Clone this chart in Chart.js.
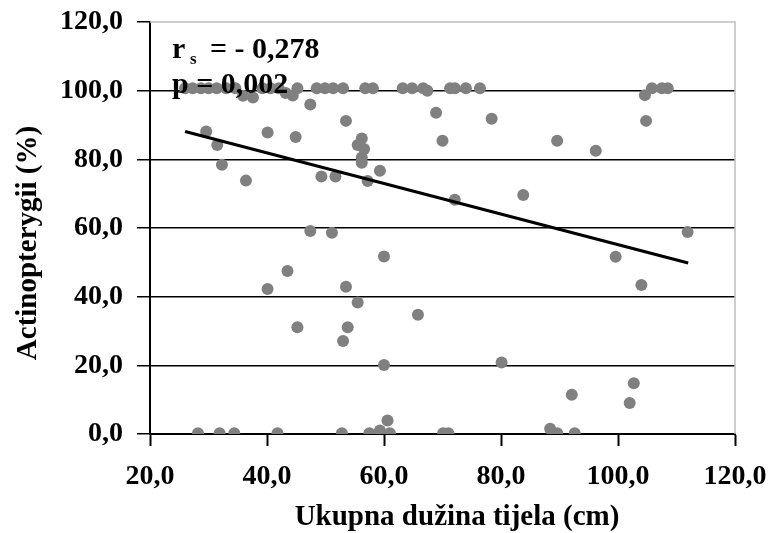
<!DOCTYPE html>
<html>
<head>
<meta charset="utf-8">
<script src="https://cdn.jsdelivr.net/npm/chart.js@4.4.1/dist/chart.umd.min.js"></script>
<style>
    body { margin: 0; background: #fff; }
    #wrap { width: 770px; height: 533px; }
</style>
</head>
<body>
<div id="wrap"><canvas id="myChart" width="770" height="533"></canvas></div>
<script>
// body length (cm) and Actinopterygii share (%) for each fish
const bodyLength = [
    26.0, 27.3, 28.7, 30.0, 31.4, 33.0, 34.6, 35.9, 37.6, 39.2, 40.6, 42.0, 43.2, 44.4, 45.2,
    48.5, 49.9, 51.3, 53.0, 56.8, 58.1, 63.2, 64.8, 66.7, 67.4, 71.3, 72.1, 74.0, 76.4,
    104.6, 105.8, 107.5, 108.5,
    29.6, 31.5, 32.3, 36.4, 40.1, 44.9, 47.4, 53.5, 56.2, 55.5, 56.6, 56.2, 56.2, 49.3, 51.7,
    57.2, 59.3, 47.4, 51.1, 68.9, 70.0, 78.4, 89.6, 96.2, 104.8, 72.1, 83.8, 111.9, 60.0,
    43.5, 40.1, 53.5, 55.5, 65.8, 45.2, 53.8, 53.0, 60.0, 60.6, 99.6, 104.0, 80.1, 92.1,
    102.7, 102.0,
    28.2, 31.9, 34.4, 41.8, 52.8, 57.5, 59.3, 61.0, 70.1, 71.0, 88.4, 89.6, 92.6
];
const actinoPct = [
    100.7, 100.7, 100.7, 100.7, 100.7, 100.7, 100.7, 98.5, 98.0, 100.7, 100.7, 100.7, 99.3, 98.6, 100.7,
    100.7, 100.7, 100.7, 100.7, 100.7, 100.7, 100.7, 100.7, 100.7, 100.0, 100.7, 100.7, 100.7, 100.7,
    98.7, 100.7, 100.7, 100.7,
    88.1, 84.2, 78.4, 73.8, 87.8, 86.5, 96.0, 91.2, 86.1, 84.2, 83.0, 80.5, 79.0, 75.0, 75.0,
    73.7, 76.7, 59.1, 58.6, 93.6, 85.4, 91.8, 85.4, 82.5, 91.2, 68.2, 69.6, 58.8, 51.7,
    47.5, 42.2, 42.9, 38.3, 34.7, 31.1, 31.1, 27.1, 20.1, 3.9, 51.6, 43.4, 20.8, 11.4,
    14.8, 9.0,
    0.2, 0.2, 0.2, 0.2, 0.2, 0.2, 1.0, 0.2, 0.2, 0.2, 1.5, 0.2, 0.2
];

// trend line end points
const trendX = [26.0, 112.0];
const trendY = [88.1, 49.8];

const xTicks = [20, 40, 60, 80, 100, 120];
const yTicks = [0, 20, 40, 60, 80, 100, 120];

const FONT = "'Liberation Serif', 'Times New Roman', serif";

function fmt(v) {
    return v.toFixed(1).replace('.', ',');
}

const points = bodyLength.map((x, i) => ({ x: x, y: actinoPct[i] }));
const trend = trendX.map((x, i) => ({ x: x, y: trendY[i] }));

// titles, r_s / p text and the grey frame on top and right
const extras = {
    id: 'extras',
    beforeDatasetsDraw(chart) {
        const ctx = chart.ctx;
        const a = chart.chartArea;
        ctx.save();
        ctx.strokeStyle = '#bfbfbf';
        ctx.lineWidth = 1.5;
        ctx.beginPath();
        ctx.moveTo(a.left, a.top);
        ctx.lineTo(a.right, a.top);
        ctx.lineTo(a.right, a.bottom);
        ctx.stroke();
        ctx.restore();
    },
    afterDatasetsDraw(chart) {
        const ctx = chart.ctx;
        ctx.save();
        ctx.fillStyle = '#000';
        ctx.textBaseline = 'alphabetic';
        ctx.textAlign = 'left';
        ctx.font = "bold 30px " + FONT;
        ctx.fillText('r', 172, 58);
        ctx.font = "bold 17px " + FONT;
        ctx.fillText('s', 190, 64);
        ctx.font = "bold 30px " + FONT;
        ctx.fillText('= - 0,278', 210, 58);
        ctx.fillText('p = 0,002', 172, 93);

        ctx.font = "bold 29px " + FONT;
        ctx.textAlign = 'center';
        ctx.fillText('Ukupna dužina tijela (cm)', 457, 525);
        ctx.translate(36, 243);
        ctx.rotate(-Math.PI / 2);
        ctx.fillText('Actinopterygii (%)', 0, 0);
        ctx.restore();
    }
};

var ctx = document.getElementById('myChart').getContext('2d');
var chart = new Chart(ctx, {
    type: 'scatter',
    data: {
        datasets: [{
            // first dataset is drawn on top
            data: trend,
            showLine: true,
            borderColor: '#000',
            borderWidth: 3,
            pointRadius: 0,
            fill: false
        }, {
            data: points,
            backgroundColor: '#808080',
            borderWidth: 0,
            pointRadius: 6,
            pointHoverRadius: 6
        }]
    },
    options: {
        responsive: false,
        animation: false,
        layout: { padding: { top: 22, right: 35, left: 0, bottom: 0 } },
        plugins: {
            legend: { display: false },
            tooltip: { enabled: false }
        },
        scales: {
            x: {
                type: 'linear',
                min: 20,
                max: 120,
                afterBuildTicks: (s) => { s.ticks = xTicks.map(v => ({ value: v })); },
                afterFit: (s) => { s.height = 99; s.paddingLeft = 0; s.paddingRight = 0; },
                border: { color: '#000', width: 2 },
                grid: { drawOnChartArea: false, tickLength: 12, tickColor: '#000', tickWidth: 2 },
                ticks: {
                    color: '#000',
                    padding: 14,
                    maxRotation: 0,
                    font: { family: FONT, size: 28, weight: 'bold' },
                    callback: (v) => fmt(v)
                }
            },
            y: {
                type: 'linear',
                min: 0,
                max: 120,
                afterBuildTicks: (s) => { s.ticks = yTicks.map(v => ({ value: v })); },
                afterFit: (s) => { s.width = 150; s.paddingTop = 0; s.paddingBottom = 0; },
                border: { color: '#000', width: 2 },
                grid: {
                    color: (c) => c.tick && c.tick.value === 120 ? 'rgba(0,0,0,0)' : '#000',
                    lineWidth: 1.5,
                    tickLength: 13,
                    tickColor: '#000',
                    tickWidth: 1.5
                },
                ticks: {
                    color: '#000',
                    padding: 14,
                    font: { family: FONT, size: 28, weight: 'bold' },
                    callback: (v) => fmt(v)
                }
            }
        }
    },
    plugins: [extras]
});
</script>
</body>
</html>
